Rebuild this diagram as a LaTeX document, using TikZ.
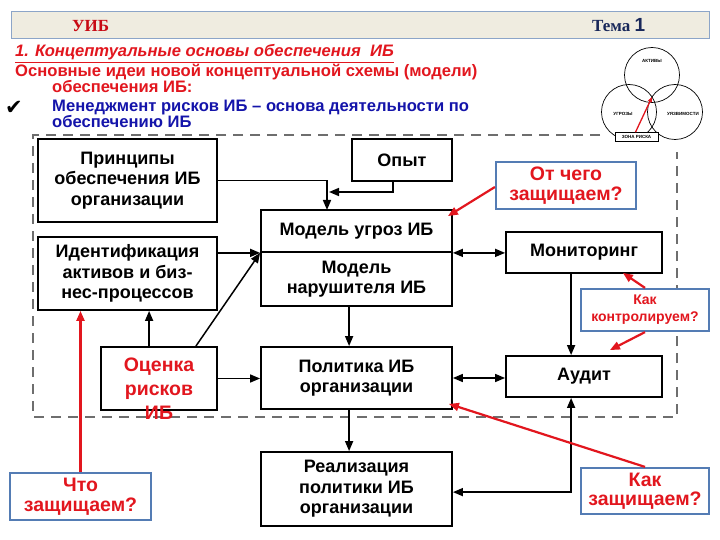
\documentclass[tikz,border=0pt]{standalone}
\usepackage{fontspec}
\setmainfont{Liberation Sans}
\newfontfamily\serifb{Liberation Serif}
\newfontfamily\dejavu{DejaVu Sans}
\usetikzlibrary{arrows.meta,calc}
\definecolor{myred}{RGB}{226,22,30}
\definecolor{hdred}{RGB}{200,10,20}
\definecolor{navy}{RGB}{25,40,90}
\definecolor{tblue}{RGB}{20,20,170}
\definecolor{calblue}{RGB}{84,124,180}
\definecolor{hdfill}{RGB}{239,236,224}
\definecolor{hdline}{RGB}{140,165,200}
\definecolor{dashgray}{RGB}{110,110,110}
\begin{document}
\begin{tikzpicture}[x=1pt,y=-1pt,
  box/.style={draw=black, line width=1.8pt, fill=white, inner sep=0pt, align=center,
    font=\bfseries\fontsize{18}{20.5}\selectfont},
  callout/.style={draw=calblue, line width=2.2pt, fill=white, inner sep=0pt, align=center,
    text=myred, font=\bfseries\fontsize{19.5}{19.5}\selectfont},
  intro/.style={font=\bfseries\fontsize{16.6}{18}\selectfont, anchor=base west, inner sep=0pt},
  arr/.style={line width=1.5pt, -{Triangle[length=10pt,width=8pt]}},
  darr/.style={line width=1.5pt, {Triangle[length=10pt,width=8pt]}-{Triangle[length=10pt,width=8pt]}},
  rarr/.style={draw=myred, line width=2.2pt, -{Triangle[length=10pt,width=8pt]}},
  venn/.style={draw=black, line width=0.7pt},
  vtext/.style={font=\bfseries\fontsize{4.5}{5}\selectfont}]
\useasboundingbox (0,0) rectangle (720,540);
\fill[white] (0,0) rectangle (720,540);

% header
\node[draw=hdline, line width=1pt, fill=hdfill, minimum width=698pt, minimum height=27pt, inner sep=0pt] (hdr) at (360,25.5) {};
\node[text=hdred, font=\serifb\bfseries\fontsize{17}{20}\selectfont, anchor=base west, inner sep=0pt] (uib) at (72,32) {УИБ};
\node[text=navy, font=\serifb\bfseries\fontsize{17}{20}\selectfont, anchor=base west, inner sep=0pt] (tema) at (592,32) {Тема {\fontspec{Liberation Sans}\bfseries\fontsize{19}{20}\selectfont 1}};

% intro text
\node[intro, text=myred, font=\bfseries\itshape\fontsize{16.6}{18}\selectfont] (t1) at (15,57) {\underline{1. Концептуальные основы обеспечения\ \ ИБ}};
\node[intro, text=myred] (t2) at (15,77) {Основные идеи новой концептуальной схемы (модели)};
\node[intro, text=myred] (t3) at (52,93) {обеспечения ИБ:};
\node[font=\dejavu\fontsize{21}{22}\selectfont, anchor=base west, inner sep=0pt] (chk) at (5,115) {✔};
\node[intro, text=tblue] (t4) at (52,112) {Менеджмент рисков ИБ – основа деятельности по};
\node[intro, text=tblue] (t5) at (52,128) {обеспечению ИБ};

% dashed frame
\draw[dashgray, line width=1.5pt, dash pattern=on 10pt off 7pt] (600,135) -- (33,135) -- (33,417) -- (677,417) -- (677,152);

% venn diagram
\draw[venn] (652,75) circle (27.5);
\draw[venn] (629,112) circle (27.5);
\draw[venn] (675,112) circle (27.5);
\node[vtext] (va) at (652,61) {АКТИВЫ};
\node[vtext] (vu) at (623,114) {УГРОЗЫ};
\node[vtext] (vv) at (683,114) {УЯЗВИМОСТИ};
\node[draw=black, line width=0.7pt, fill=white, minimum width=43pt, minimum height=9pt, inner sep=0pt, font=\bfseries\fontsize{4.5}{5}\selectfont] (zona) at (636.5,137) {ЗОНА РИСКА};
\draw[draw=myred, line width=1.3pt, -{Triangle[length=5pt,width=4pt]}] ($(zona.north)+(-1,0)$) -- (652,97);

% boxes
\node[box, minimum width=179pt, minimum height=83pt] (princ) at (127.5,180.5) {Принципы\\обеспечения ИБ\\организации};
\node[box, minimum width=179pt, minimum height=73pt] (ident) at (127.5,273.5) {Идентификация\\активов и биз-\\нес-процессов};
\node[box, minimum width=100pt, minimum height=42pt] (opyt) at (402,160) {Опыт};
\node[box, minimum width=191pt, minimum height=42pt] (modelA) at (356.5,231) {Модель угроз ИБ};
\node[box, minimum width=191pt, minimum height=54pt] (modelB) at (356.5,279) {Модель\\нарушителя ИБ};
\node[box, minimum width=156pt, minimum height=41pt] (monit) at (584,252.5) {Мониторинг};
\node[box, minimum width=116pt, minimum height=63pt] (ocenka) at (159,378.5) {};
\node[text=myred, align=center, font=\bfseries\fontsize{19.5}{24}\selectfont, inner sep=0pt] (ocenkaT) at (159,389) {Оценка\\рисков\\ИБ};
\node[box, minimum width=191pt, minimum height=62pt] (polit) at (356.5,378) {Политика ИБ\\организации};
\node[box, minimum width=156pt, minimum height=41pt] (audit) at (584,376.5) {Аудит};
\node[box, minimum width=191pt, minimum height=74pt] (real) at (356.5,489) {Реализация\\политики ИБ\\организации};

% callouts
\node[callout, minimum width=140pt, minimum height=47pt] (otchego) at (566,185.5) {От чего\\защищаем?};
\node[callout, minimum width=128pt, minimum height=42pt, font=\bfseries\fontsize{14}{17}\selectfont] (kakkontr) at (645,310) {Как\\контролируем?};
\node[callout, minimum width=141pt, minimum height=47pt] (chto) at (80.5,496.5) {Что\\защищаем?};
\node[callout, minimum width=128pt, minimum height=46pt] (kakzash) at (645,491) {Как\\защищаем?};

% connectors
\coordinate (j1) at (327,210);
\draw[arr] (princ.east) -| (j1);
\coordinate (j2) at (329,192);
\draw[arr] ($(opyt.south west)+(42,0)$) |- (j2);
\draw[arr] (ident.east |- modelA.south west) -- (modelA.south west);
\draw[arr] ($(ocenka.north east)+(-22,0)$) -- (modelA.south west);
\draw[arr] ($(ocenka.north west)+(49,0)$) -- ($(ident.south west)+(112,0)$);
\draw[arr] (ocenka.east) -- (ocenka.east -| polit.west);
\draw[arr] ($(modelB.south west)+(89,0)$) -- ($(polit.north west)+(89,0)$);
\draw[arr] ($(polit.south west)+(89,0)$) -- ($(real.north west)+(89,0)$);
\draw[darr] (modelA.south east) -- (modelA.south east -| monit.west);
\draw[darr] (polit.east) -- (polit.east -| audit.west);
\draw[arr] ($(monit.south west)+(66,0)$) -- ($(audit.north west)+(66,0)$);
\draw[darr] ($(audit.south west)+(66,0)$) |- ($(real.north east)+(0,41)$);

% red pointers
\draw[rarr] ($(otchego.west)+(0,1.5)$) -- ($(modelA.north east)+(-5,7)$);
\draw[rarr] (kakkontr.north) -- ($(monit.south east)+(-40,-1)$);
\draw[rarr] (kakkontr.south) -- ($(audit.north east)+(-53,-5)$);
\draw[rarr] (kakzash.north) -- ($(polit.south east)+(-4,-6)$);
\draw[rarr] (chto.north) -- (chto.north |- ident.south);
\end{tikzpicture}
\end{document}
